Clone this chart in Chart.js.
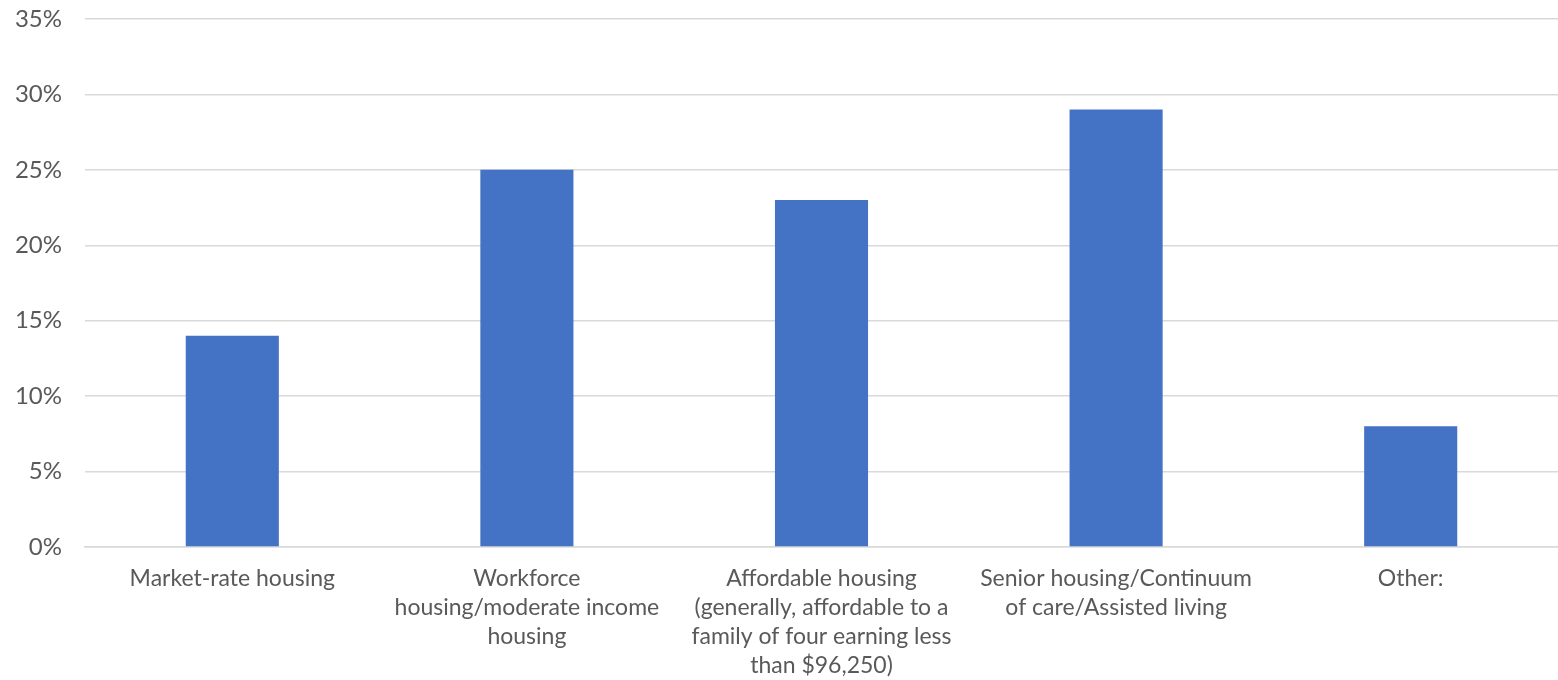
<!DOCTYPE html>
<html>
<head>
<meta charset="utf-8">
<script src="https://cdn.jsdelivr.net/npm/chart.js@4"></script>
<style>
  html, body { margin: 0; padding: 0; background: #fff; }
  #wrap { width: 1558px; height: 680px; position: relative; }
</style>
</head>
<body>
<div id="wrap"><canvas id="grafico"></canvas></div>
<script>
const categories = [
    ["Market-rate housing"],
    ["Workforce", "housing/moderate income", "housing"],
    ["Affordable housing", "(generally, affordable to a", "family of four earning less", "than $96,250)"],
    ["Senior housing/Continuum", "of care/Assisted living"],
    ["Other:"]
];
const shares = [14, 25, 23, 29, 8];
const yTicks = [0, 5, 10, 15, 20, 25, 30, 35];

const ctx = document.getElementById("grafico").getContext("2d");
const chart = new Chart(ctx, {
    type: "bar",
    data: {
        labels: categories,
        datasets: [{
            data: shares,
            backgroundColor: "#4472C4",
            barPercentage: 0.316,
            categoryPercentage: 1
        }]
    },
    options: {
        responsive: true,
        maintainAspectRatio: false,
        animation: false,
        layout: { padding: { top: 19, right: 0, bottom: 0, left: 0 } },
        plugins: { legend: { display: false }, tooltip: { enabled: false } },
        scales: {
            x: {
                grid: { display: false, drawTicks: false },
                border: { color: "#d9d9d9", width: 1.5 },
                ticks: {
                    color: "#595959",
                    font: { family: "Lato", size: 23, lineHeight: 1.26 },
                    padding: 17,
                    maxRotation: 0,
                    autoSkip: false
                },
                afterFit: (s) => { s.height = 133; s.paddingLeft = 0; s.paddingRight = 0; }
            },
            y: {
                min: 0,
                max: 35,
                afterBuildTicks: (s) => { s.ticks = yTicks.map(v => ({ value: v })); },
                grid: { color: "#d9d9d9", lineWidth: 1.5, drawTicks: false },
                border: { display: false },
                ticks: {
                    color: "#595959",
                    font: { family: "Lato", size: 24 },
                    padding: 23,
                    callback: (v) => v + "%"
                },
                afterFit: (s) => { s.width = 85; s.paddingTop = 0; s.paddingBottom = 0; }
            }
        }
    }
});
</script>
</body>
</html>
